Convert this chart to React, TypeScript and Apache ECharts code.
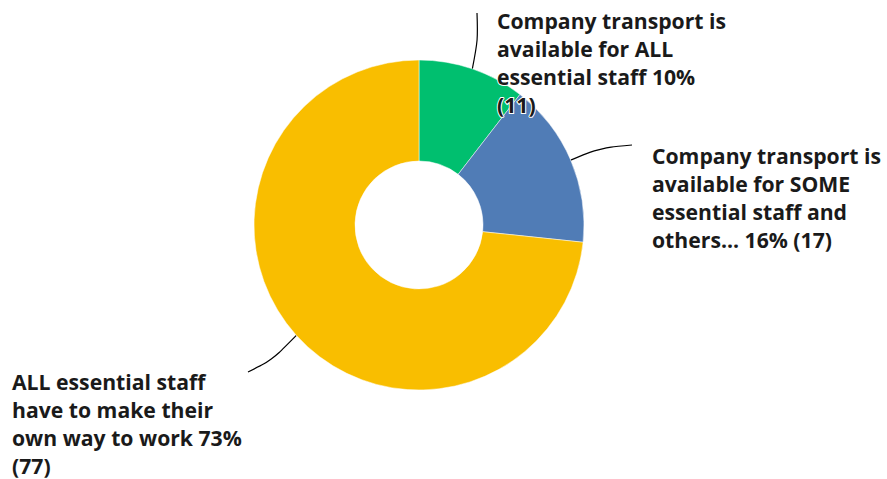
import React, { useEffect, useRef } from "react";
import * as echarts from "echarts";

const categories = [
  "Company transport is\navailable for ALL\nessential staff",
  "Company transport is\navailable for SOME\nessential staff and\nothers...",
  "ALL essential staff\nhave to make their\nown way to work",
];
const counts = [11, 17, 77];
const percentLabels = ["10%", "16%", "73%"];
const colors = ["#00BF6F", "#507CB6", "#F9BE00"];

// label anchor positions (layout only)
const labelPos = [
  { x: 497, y: 6, mid: [478, 40], end: [477, 13] },
  { x: 652, y: 141, mid: [600, 148], end: [632, 145] },
  { x: 12, y: 367, mid: [272, 360], end: [248, 372] },
];

export default function App() {
  const ref = useRef<HTMLDivElement>(null);
  useEffect(() => {
    if (!ref.current) return;
    const chart = echarts.init(ref.current, null, { renderer: "svg" });
    const fullText = [
      categories[0] + " " + percentLabels[0] + "\n(" + counts[0] + ")",
      categories[1] + " " + percentLabels[1] + " (" + counts[1] + ")",
      categories[2] + " " + percentLabels[2] + "\n(" + counts[2] + ")",
    ];
    chart.setOption({
      animation: false,
      series: [
        {
          type: "pie",
          center: [419, 225],
          radius: [64, 165],
          startAngle: 90,
          clockwise: true,
          avoidLabelOverlap: false,
          itemStyle: { borderColor: "#fff", borderWidth: 0.5 },
          data: counts.map((v, i) => ({
            value: v,
            name: categories[i],
            itemStyle: { color: colors[i] },
          })),
          label: {
            show: true,
            formatter: (p: any) => fullText[p.dataIndex],
            color: "#1a1a1a",
            fontFamily: "Open Sans",
            fontWeight: "bold",
            fontSize: 21.2,
            lineHeight: 28,
            textBorderColor: "#fff",
            textBorderWidth: 2,
          },
          labelLine: {
            show: true,
            smooth: 0.3,
            lineStyle: { color: "#000", width: 1.2 },
          },
          labelLayout: (params: any) => {
            const p = labelPos[params.dataIndex];
            const start = params.labelLinePoints
              ? params.labelLinePoints[0]
              : p.mid;
            return {
              x: p.x,
              y: p.y,
              align: "left",
              verticalAlign: "top",
              labelLinePoints: [start, p.mid, p.end],
            };
          },
        },
      ],
    });
    return () => chart.dispose();
  }, []);
  return (
    <div
      ref={ref}
      style={{ position: "absolute", left: 0, top: 0, width: 887, height: 479 }}
    />
  );
}
